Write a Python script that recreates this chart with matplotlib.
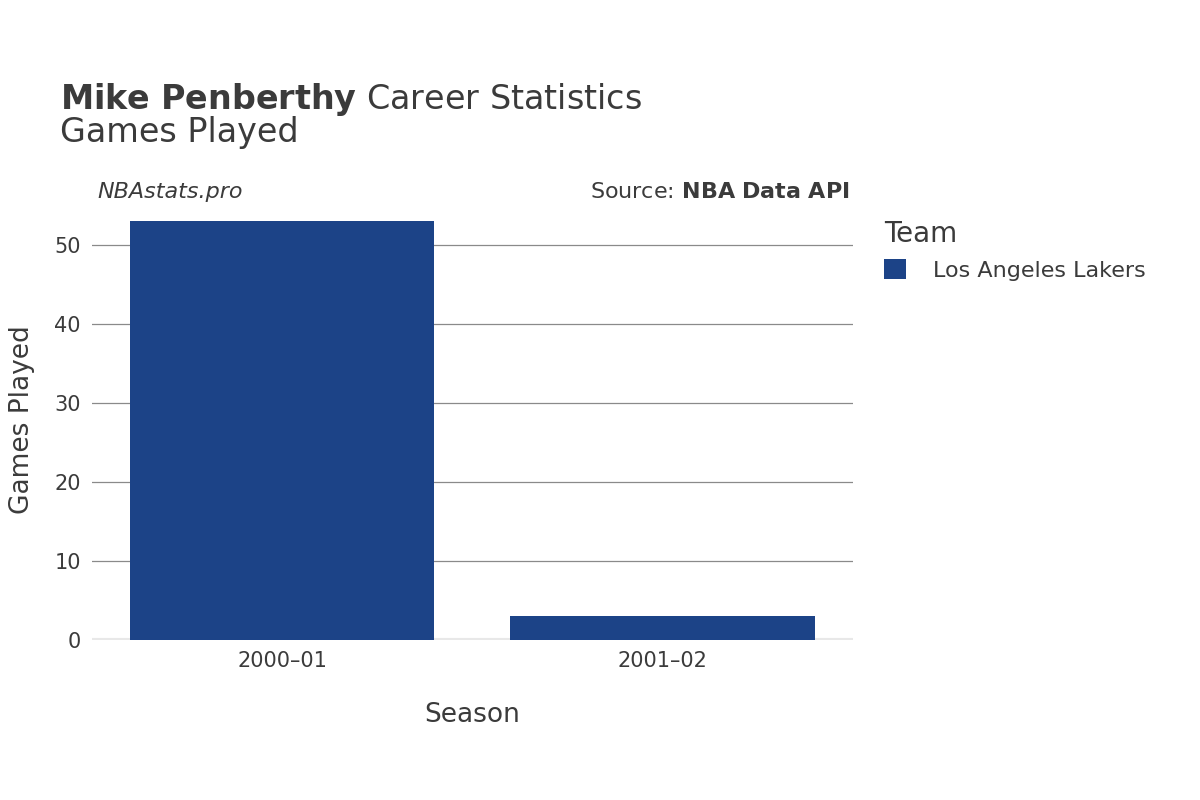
import matplotlib.pyplot as plt

seasons = ["2000\u201301", "2001\u201302"]
games = [53, 3]
team = "Los Angeles Lakers"
yticks = [0, 10, 20, 30, 40, 50]

BAR = "#1c4387"
TXT = "#3b3b3b"

fig = plt.figure(figsize=(12, 8), dpi=100)
ax = fig.add_axes([0.0767, 0.2, 0.634, 0.55])

xs = range(len(seasons))
bars = ax.bar(xs, games, width=0.8, color=BAR, label=team, zorder=3)

ax.set_xlim(-0.5, 1.5)
ax.set_ylim(0, 55.7)
ax.set_yticks(yticks)
ax.set_xticks(list(xs))
ax.set_xticklabels(seasons)
ax.grid(axis="y", color="#8a8a8a", linewidth=0.9, zorder=0)
ax.axhline(0, color="#e8e8e8", linewidth=3, zorder=2)
for s in ax.spines.values():
    s.set_visible(False)
ax.tick_params(length=0, labelsize=15, colors=TXT, pad=8)
ax.set_xlabel("Season", fontsize=19, color=TXT, labelpad=22)
ax.set_ylabel("Games Played", fontsize=19, color=TXT, labelpad=14)

fig.text(0.05, 0.875, r"$\bf{Mike\ Penberthy}$ Career Statistics",
         fontsize=24, color=TXT, va="center")
fig.text(0.05, 0.834, "Games Played", fontsize=24, color=TXT, va="center")
fig.text(0.081, 0.76, "NBAstats.pro", fontsize=16, style="italic",
         color=TXT, va="center")
fig.text(0.708, 0.76, r"Source: $\bf{NBA\ Data\ API}$", fontsize=16,
         color=TXT, va="center", ha="right")

leg = fig.legend(handles=[bars], labels=[team], loc="upper left",
                 bbox_to_anchor=(0.72, 0.75), frameon=False, fontsize=16,
                 title="Team", title_fontsize=20, handlelength=1.0,
                 handleheight=1.0, handletextpad=1.2, alignment="left")
for t in leg.get_texts():
    t.set_color(TXT)
leg.get_title().set_color(TXT)

fig.savefig("out.png", dpi=100)
